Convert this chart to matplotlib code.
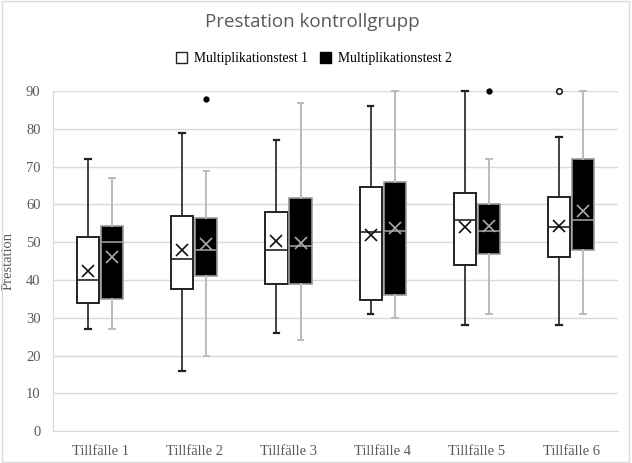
import matplotlib
matplotlib.use("Agg")
import matplotlib.pyplot as plt
from matplotlib.patches import Patch

categories = ["Tillfälle 1", "Tillfälle 2", "Tillfälle 3", "Tillfälle 4", "Tillfälle 5", "Tillfälle 6"]
series_names = ["Multiplikationstest 1", "Multiplikationstest 2"]

# Multiplikationstest 1
t1_whislo = [27, 16, 26, 31, 28, 28]
t1_q1 = [34, 37.6, 39, 34.6, 44, 46]
t1_med = [40, 45.6, 48, 52.6, 56, 54]
t1_q3 = [51.5, 57, 58, 64.5, 63, 62]
t1_whishi = [72, 79, 77, 86, 90, 78]
t1_mean = [42.5, 47.9, 50.2, 52, 54, 54.2]
t1_fliers = [[], [], [], [], [], [90]]

# Multiplikationstest 2
t2_whislo = [27, 20, 24, 30, 31, 31]
t2_q1 = [35, 41, 39, 36, 47, 48]
t2_med = [50, 48, 49, 53, 53, 56]
t2_q3 = [54.4, 56.4, 61.6, 66, 60, 72]
t2_whishi = [67, 69, 87, 90, 72, 90]
t2_mean = [46, 49.5, 49.9, 53.9, 54.2, 58.4]
t2_fliers = [[], [88], [], [], [90], []]

yticks = [0, 10, 20, 30, 40, 50, 60, 70, 80, 90]

def stats(lo, q1, med, q3, hi, mean, fl):
    return [dict(whislo=a, q1=b, med=c, q3=d, whishi=e, mean=f, fliers=g)
            for a, b, c, d, e, f, g in zip(lo, q1, med, q3, hi, mean, fl)]

fig = plt.figure(figsize=(6.32, 4.63), dpi=100)
ax = fig.add_axes([0.084, 0.069, 0.894, 0.734])

serif = "Liberation Serif"
w = 0.235
off = 0.128
pos = list(range(len(categories)))

s1 = stats(t1_whislo, t1_q1, t1_med, t1_q3, t1_whishi, t1_mean, t1_fliers)
s2 = stats(t2_whislo, t2_q1, t2_med, t2_q3, t2_whishi, t2_mean, t2_fliers)

b1 = ax.bxp(s1, positions=[p - off for p in pos], widths=w, patch_artist=True, showmeans=True,
       boxprops=dict(facecolor="white", edgecolor="#222222", linewidth=1.4),
       medianprops=dict(color="#222222", linewidth=1.2),
       whiskerprops=dict(color="#222222", linewidth=1.2),
       capprops=dict(color="#222222", linewidth=1.6),
       capwidths=0.06,
       meanprops=dict(marker="x", markeredgecolor="#111111", markersize=8, markeredgewidth=1.2),
       flierprops=dict(marker="o", markerfacecolor="white", markeredgecolor="#222222", markersize=4,
                       markeredgewidth=1.2))

b2 = ax.bxp(s2, positions=[p + off for p in pos], widths=w, patch_artist=True, showmeans=True,
       boxprops=dict(facecolor="black", edgecolor="#999999", linewidth=1.2),
       medianprops=dict(color="#999999", linewidth=1.2),
       whiskerprops=dict(color="#bbbbbb", linewidth=1.4),
       capprops=dict(color="#bbbbbb", linewidth=1.4),
       capwidths=0.06,
       meanprops=dict(marker="x", markeredgecolor="#aaaaaa", markersize=8, markeredgewidth=1.2),
       flierprops=dict(marker="o", markerfacecolor="black", markeredgecolor="black", markersize=3.5))

for b in (b1, b2):
    for key in ("fliers", "whiskers", "caps"):
        for art in b[key]:
            art.set_clip_on(False)

ax.set_xlim(-0.5, len(categories) - 0.5)
ax.set_ylim(0, 90)
ax.set_yticks(yticks)
ax.set_xticks(pos)
ax.set_xticklabels(categories, fontfamily=serif, fontsize=10.5, color="#595959")
for lbl in ax.get_yticklabels():
    lbl.set_fontfamily(serif)
    lbl.set_fontsize(10.5)
    lbl.set_color("#595959")
ax.tick_params(length=0, pad=9)
ax.tick_params(axis="x", pad=10)
ax.grid(axis="y", color="#d9d9d9", linewidth=1)
ax.set_axisbelow(True)
for s in ["top", "right"]:
    ax.spines[s].set_visible(False)
ax.spines["left"].set_color("#d9d9d9")
ax.spines["bottom"].set_color("#d9d9d9")
ax.set_ylabel("Prestation", fontfamily=serif, fontsize=10.5, color="#595959", labelpad=8)

fig.text(0.494, 0.952, "Prestation kontrollgrupp", ha="center", va="center",
         fontfamily="Open Sans", fontsize=13.5, color="#595959")

handles = [Patch(facecolor="white", edgecolor="#222222", linewidth=1),
           Patch(facecolor="black", edgecolor="black", linewidth=1)]
fig.legend(handles, series_names, loc="center", bbox_to_anchor=(0.497, 0.873), ncol=2,
           frameon=False, prop=dict(family=serif, size=9.8), handlelength=0.8, handleheight=0.8,
           columnspacing=0.9, handletextpad=0.5)

border = plt.Rectangle((0.003, 0.003), 0.992, 0.994, transform=fig.transFigure,
                       fill=False, edgecolor="#d9d9d9", linewidth=1)
fig.add_artist(border)

fig.savefig("out.png", dpi=100)
